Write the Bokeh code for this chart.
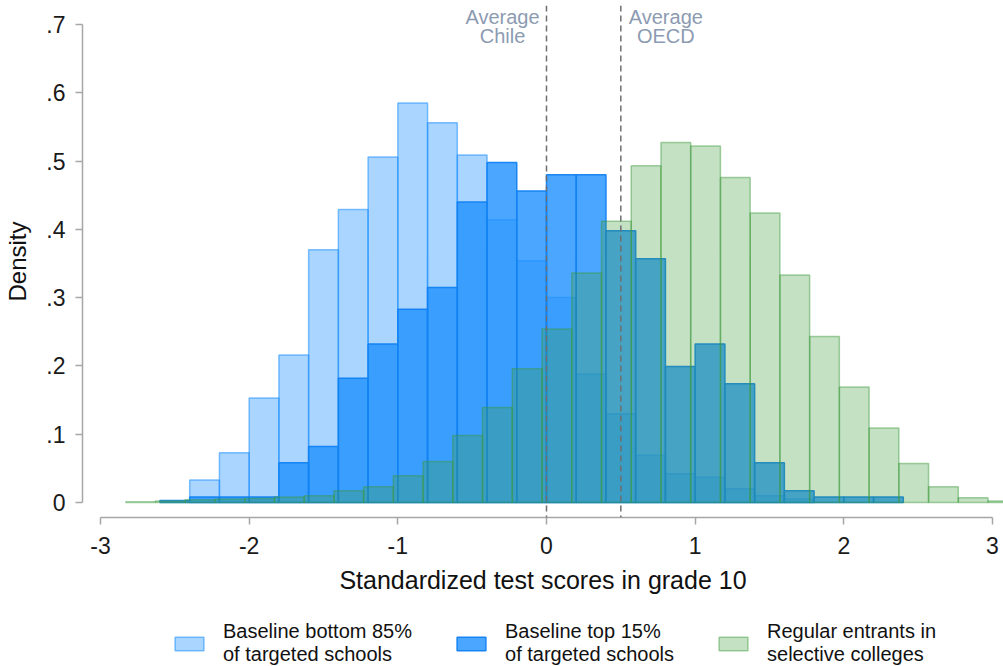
import numpy as np
from bokeh.plotting import figure
from bokeh.layouts import column
from bokeh.models import (ColumnDataSource, Legend, LegendItem, Span, Label,
                          FixedTicker, CustomJSTickFormatter)
from bokeh.embed import file_html
from bokeh.resources import INLINE

# Histogram densities of standardized grade-10 test scores (bin width 0.2)
BIN_WIDTH = 0.2

bottom85_start = -2.4
bottom85_density = [0.033, 0.073, 0.153, 0.216, 0.370, 0.429, 0.506, 0.585,
                    0.556, 0.509, 0.414, 0.354, 0.300, 0.188, 0.130, 0.069,
                    0.042, 0.037, 0.020, 0.010, 0.005]

top15_start = -2.6
top15_density = [0.003, 0.008, 0.008, 0.008, 0.058, 0.082, 0.182, 0.232,
                 0.283, 0.315, 0.440, 0.498, 0.456, 0.480, 0.480, 0.398,
                 0.357, 0.199, 0.232, 0.174, 0.058, 0.017, 0.008, 0.008,
                 0.008]

regular_start = -2.83
regular_density = [0.001, 0.002, 0.004, 0.005, 0.006, 0.008, 0.010, 0.017,
                   0.023, 0.039, 0.060, 0.098, 0.139, 0.196, 0.254, 0.336,
                   0.412, 0.493, 0.527, 0.522, 0.476, 0.424, 0.333, 0.243,
                   0.169, 0.109, 0.057, 0.023, 0.007, 0.002]

series_labels = ["Baseline bottom 85%\nof targeted schools",
                 "Baseline top 15%\nof targeted schools",
                 "Regular entrants in\nselective colleges"]

avg_chile = 0.0
avg_oecd = 0.5

x_ticks = [-3, -2, -1, 0, 1, 2, 3]
y_ticks = [0, 0.1, 0.2, 0.3, 0.4, 0.5, 0.6, 0.7]

FONT = "Liberation Sans"
AXIS_GRAY = "#a6a6a6"

# Fill / outline styles shared by the bars and their legend swatches
STYLES = [
    dict(fill_color="#1e90ff", fill_alpha=0.38, line_color="#1e90ff",
         line_alpha=0.55, line_width=1.5),
    dict(fill_color="#1e90ff", fill_alpha=0.8, line_color="#1282f2",
         line_alpha=0.95, line_width=1.5),
    dict(fill_color="#3a9a3a", fill_alpha=0.3, line_color="#3a9a3a",
         line_alpha=0.45, line_width=1.5),
]


def hist_source(start, density):
    left = start + BIN_WIDTH * np.arange(len(density))
    return ColumnDataSource(dict(left=left, right=left + BIN_WIDTH,
                                 top=np.asarray(density)))


p = figure(width=1003, height=604,
           x_range=(-3.121, 3.074), y_range=(-0.022, 0.7278),
           output_backend="svg", toolbar_location=None,
           min_border_left=82, min_border_right=0,
           min_border_top=5, min_border_bottom=87)
p.outline_line_color = None
p.xgrid.visible = False
p.ygrid.visible = False
p.background_fill_color = "white"
p.border_fill_color = "white"

series = [(bottom85_start, bottom85_density),
          (top15_start, top15_density),
          (regular_start, regular_density)]
for (start, dens), style in zip(series, STYLES):
    p.quad(left="left", right="right", top="top", bottom=0,
           source=hist_source(start, dens), **style)

# Reference lines for the national and OECD averages
for xv in (avg_chile, avg_oecd):
    p.add_layout(Span(location=xv, dimension="height", line_color="#6e6e6e",
                      line_dash="6 4", line_width=1.5))

label_style = dict(y=0.7265, text_baseline="top", text_align="center",
                   text_font=FONT, text_font_size="20px",
                   text_color="#8c9bb2", text_line_height=0.85)
p.add_layout(Label(x=avg_chile, x_offset=-44, text="Average\nChile",
                   **label_style))
p.add_layout(Label(x=avg_oecd, x_offset=45, text="Average\nOECD",
                   **label_style))

# Axes
xa = p.xaxis[0]
xa.ticker = FixedTicker(ticks=x_ticks)
xa.bounds = (x_ticks[0], x_ticks[-1])
xa.formatter = CustomJSTickFormatter(code="return tick.toFixed(0);")
xa.axis_label = "Standardized test scores in grade 10"
xa.major_label_standoff = 12
xa.axis_label_standoff = 9

ya = p.yaxis[0]
ya.ticker = FixedTicker(ticks=y_ticks)
ya.bounds = (y_ticks[0], y_ticks[-1])
ya.formatter = CustomJSTickFormatter(
    code='return tick == 0 ? "0" : tick.toFixed(1).replace(/^0/, "");')
ya.axis_label = "Density"
ya.major_label_standoff = 10
ya.axis_label_standoff = 12

for ax in (xa, ya):
    ax.axis_line_color = AXIS_GRAY
    ax.axis_line_width = 1.5
    ax.major_tick_line_color = AXIS_GRAY
    ax.major_tick_line_width = 1.5
    ax.major_tick_out = 7
    ax.major_tick_in = 0
    ax.minor_tick_line_color = None
    ax.major_label_text_font = FONT
    ax.major_label_text_font_size = "23px"
    ax.major_label_text_color = "#1a1a1a"
    ax.axis_label_text_font = FONT
    ax.axis_label_text_font_style = "normal"
    ax.axis_label_text_color = "#111111"
xa.axis_label_text_font_size = "25px"
ya.axis_label_text_font_size = "24px"

# Legend strip underneath the chart; its frame lines up with the chart frame.
# The swatch renderers hold one placeholder box each, outside the strip's range.
lf = figure(width=1003, height=62, x_range=(0, 1), y_range=(0, 1),
            output_backend="svg", toolbar_location=None, min_border=0)
lf.axis.visible = False
lf.grid.visible = False
lf.outline_line_color = None
swatches = [lf.quad(left=[-3], right=[-2], top=[-2], bottom=[-3], **style)
            for style in STYLES]

legend = Legend(items=[LegendItem(label=lab, renderers=[r])
                       for lab, r in zip(series_labels, swatches)],
                orientation="horizontal", location=(89, 0))
legend.border_line_color = None
legend.background_fill_alpha = 0
legend.padding = 0
legend.margin = 0
legend.spacing = 41
legend.glyph_width = 36
legend.glyph_height = 17
legend.label_standoff = 16
legend.label_text_font = FONT
legend.label_text_font_size = "20px"
legend.label_text_line_height = 1.05
legend.label_text_color = "#111111"
lf.add_layout(legend)

open("out.html", "w").write(file_html(column(p, lf, spacing=0), INLINE))
